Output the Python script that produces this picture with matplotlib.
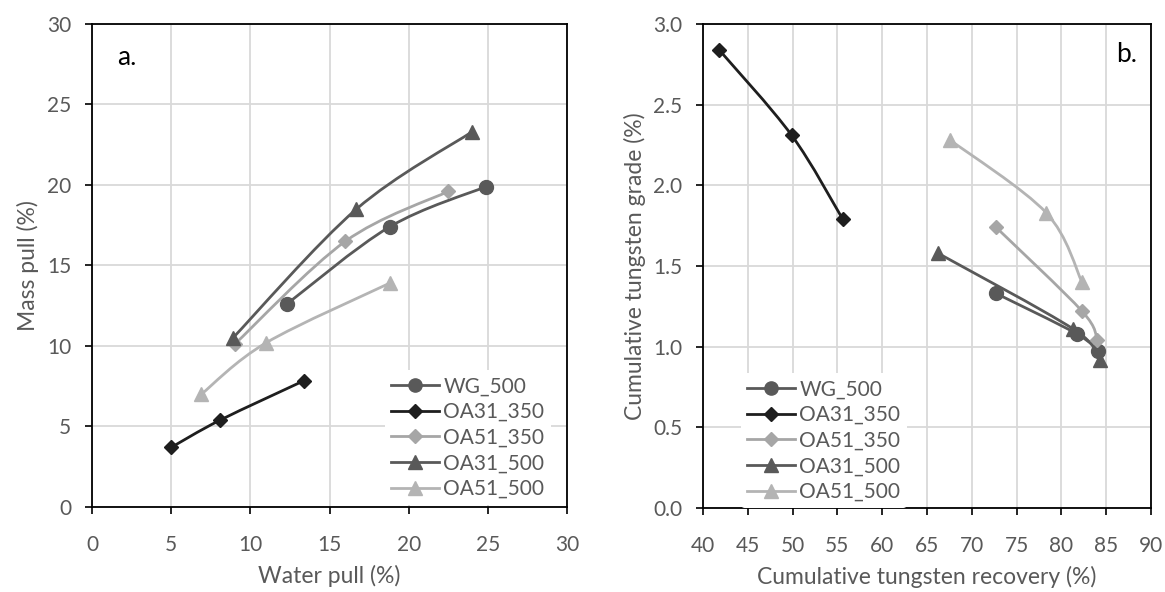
import matplotlib
matplotlib.use("Agg")
import matplotlib.pyplot as plt
from matplotlib.path import Path
from matplotlib.patches import PathPatch
from matplotlib.lines import Line2D
import numpy as np

plt.rcParams['font.family'] = ['Lato', 'DejaVu Sans']

series_names = ['WG_500', 'OA31_350', 'OA51_350', 'OA31_500', 'OA51_500']

# panel a: water pull vs mass pull
water_pull = {
    'WG_500': [12.3, 18.8, 24.9],
    'OA31_350': [5.0, 8.1, 13.4],
    'OA51_350': [9.0, 16.0, 22.5],
    'OA31_500': [8.9, 16.7, 24.0],
    'OA51_500': [6.9, 11.0, 18.8],
}
mass_pull = {
    'WG_500': [12.6, 17.4, 19.9],
    'OA31_350': [3.7, 5.4, 7.85],
    'OA51_350': [10.1, 16.5, 19.6],
    'OA31_500': [10.5, 18.5, 23.3],
    'OA51_500': [7.0, 10.2, 13.9],
}

# panel b: cumulative recovery vs grade
w_recovery = {
    'WG_500': [72.7, 81.7, 84.1],
    'OA31_350': [41.8, 49.9, 55.6],
    'OA51_350': [72.7, 82.3, 84.0],
    'OA31_500': [66.2, 81.3, 84.3],
    'OA51_500': [67.6, 78.3, 82.3],
}
w_grade = {
    'WG_500': [1.33, 1.08, 0.97],
    'OA31_350': [2.84, 2.31, 1.79],
    'OA51_350': [1.74, 1.22, 1.04],
    'OA31_500': [1.58, 1.11, 0.92],
    'OA51_500': [2.28, 1.83, 1.40],
}

styles = {
    'WG_500': dict(color='#595959', marker='o', ms=10),
    'OA31_350': dict(color='#1e1e1e', marker='D', ms=7.5),
    'OA51_350': dict(color='#a6a6a6', marker='D', ms=7.5),
    'OA31_500': dict(color='#595959', marker='^', ms=10.5),
    'OA51_500': dict(color='#b4b4b4', marker='^', ms=10.5),
}

TICK_COL = '#595959'
GRID_COL = '#d9d9d9'
LW = 2.0


def smooth_line(ax, xs, ys, color):
    """Excel-style smoothed line drawn as cubic bezier path"""
    pts = np.column_stack([xs, ys]).astype(float)
    n = len(pts)
    verts = [pts[0]]
    codes = [Path.MOVETO]
    for i in range(n - 1):
        p0 = pts[i - 1] if i > 0 else pts[i]
        p1 = pts[i]
        p2 = pts[i + 1]
        p3 = pts[i + 2] if i + 2 < n else pts[i + 1]
        c1 = p1 + (p2 - p0) / 6.0
        c2 = p2 - (p3 - p1) / 6.0
        verts += [c1, c2, p2]
        codes += [Path.CURVE4] * 3
    patch = PathPatch(Path(verts, codes), facecolor='none', edgecolor=color,
                      lw=LW, zorder=3, capstyle='round')
    ax.add_patch(patch)


def style_axis(ax):
    ax.grid(True, color=GRID_COL, lw=1.3, zorder=0)
    ax.set_axisbelow(True)
    for spine in ax.spines.values():
        spine.set_color('black')
        spine.set_linewidth(1.3)
    ax.tick_params(direction='out', length=5, width=1.2, color='black',
                   labelcolor=TICK_COL, labelsize=15, pad=10)
    ax.tick_params(axis='x', pad=15)


fig = plt.figure(figsize=(11.65, 5.92), dpi=100)
ax1 = fig.add_axes([0.079, 0.1436, 0.4077, 0.816])
ax2 = fig.add_axes([0.6034, 0.1419, 0.3846, 0.8176])

for ax, xd, yd in [(ax1, water_pull, mass_pull), (ax2, w_recovery, w_grade)]:
    for name in series_names:
        st = styles[name]
        smooth_line(ax, xd[name], yd[name], st['color'])
        ax.plot(xd[name], yd[name], linestyle='none', marker=st['marker'],
                ms=st['ms'], color=st['color'], mec=st['color'], zorder=4)
    style_axis(ax)

handles = [Line2D([], [], color=styles[n]['color'], lw=LW, marker=styles[n]['marker'],
                  ms=styles[n]['ms'] * 0.95) for n in series_names]
leg_kw = dict(frameon=True, framealpha=1, edgecolor='none', facecolor='white',
              fontsize=15, handlelength=2.3, handletextpad=0.2, labelspacing=0.27,
              labelcolor=TICK_COL, borderpad=0.3, loc='upper left')

ax1.set_xlim(0, 30)
ax1.set_ylim(0, 30)
ax1.set_xticks(np.arange(0, 31, 5))
ax1.set_yticks(np.arange(0, 31, 5))
ax1.set_xlabel('Water pull (%)', color=TICK_COL, fontsize=16.5, labelpad=7)
ax1.set_ylabel('Mass pull (%)', color=TICK_COL, fontsize=16.5, labelpad=6)
ax1.text(0.053, 0.93, 'a.', transform=ax1.transAxes, fontsize=19,
         va='center', ha='left', color='black')
ax1.legend(handles, series_names, bbox_to_anchor=(0.595, 0.305), **leg_kw)

ax2.set_xlim(40, 90)
ax2.set_ylim(0, 3.0)
ax2.set_xticks(np.arange(40, 91, 5))
ax2.set_yticks(np.arange(0, 3.01, 0.5))
ax2.yaxis.set_major_formatter(matplotlib.ticker.FormatStrFormatter('%.1f'))
ax2.set_xlabel('Cumulative tungsten recovery (%)', color=TICK_COL, fontsize=16.5, labelpad=7)
ax2.set_ylabel('Cumulative tungsten grade (%)', color=TICK_COL, fontsize=16.5, labelpad=5)
ax2.text(0.969, 0.936, 'b.', transform=ax2.transAxes, fontsize=19,
         va='center', ha='right', color='black')
ax2.legend(handles, series_names, bbox_to_anchor=(0.062, 0.3), **leg_kw)

fig.savefig('out.png', dpi=100, facecolor='white')
